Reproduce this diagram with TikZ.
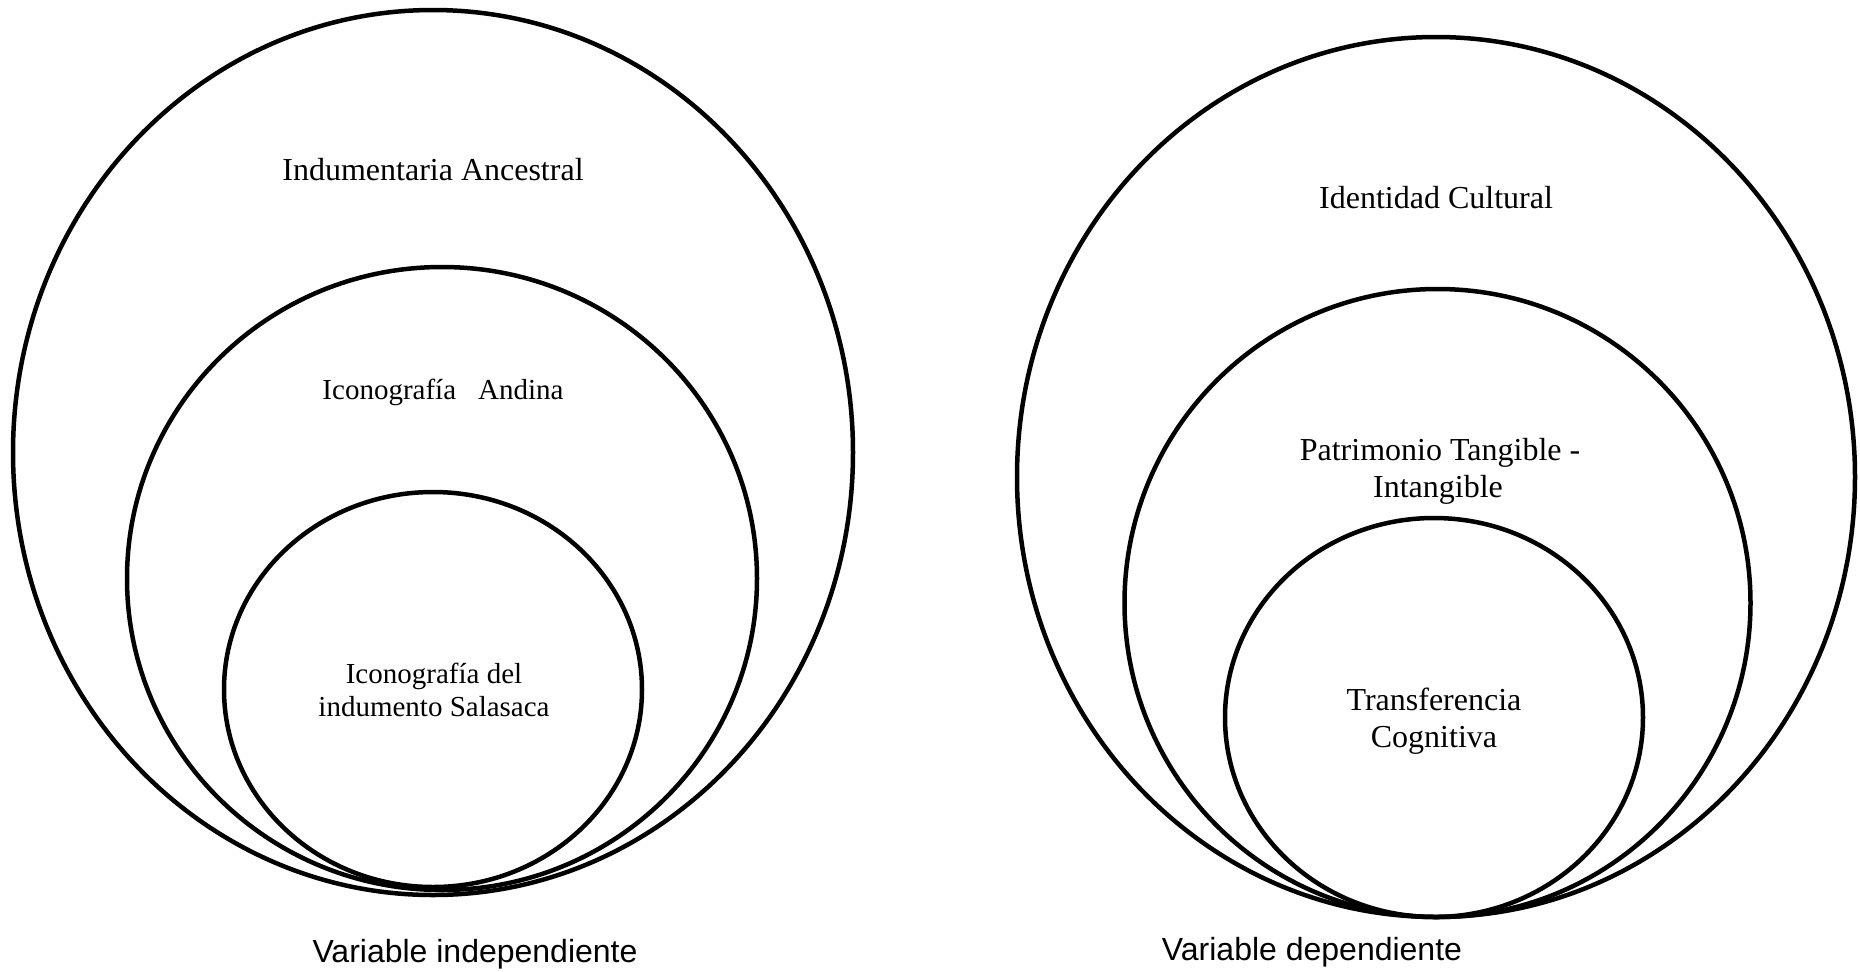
\documentclass[tikz,border=0pt]{standalone}
\usepackage{fontspec}
\setmainfont{Liberation Serif}
\setsansfont{Liberation Sans}
\begin{document}
\begin{tikzpicture}[x=0.5pt,y=-0.5pt,
  ring/.style={line width=2.25pt},
  lbl/.style={font=\fontsize{16}{18.5}\selectfont, anchor=base, inner sep=0pt},
  lblsmall/.style={font=\fontsize{14.5}{17}\selectfont, anchor=base, inner sep=0pt},
  caption/.style={font=\sffamily\fontsize{16}{18.5}\selectfont, anchor=base, inner sep=0pt}]
\useasboundingbox (0,0) rectangle (1860,971);
% left set
\draw[ring] (433,452.5) ellipse [x radius=420, y radius=442.5];
\draw[ring] (442,578.5) ellipse [x radius=315, y radius=311.5];
\draw[ring] (433,689.5) ellipse [x radius=209, y radius=197.5];
% right set
\draw[ring] (1436,477) ellipse [x radius=419, y radius=440];
\draw[ring] (1437.5,603) ellipse [x radius=313, y radius=314];
\draw[ring] (1434,717.5) ellipse [x radius=209, y radius=199.5];
% labels
\node[lbl] (ia) at (433,180) {Indumentaria Ancestral};
\node[lblsmall] (ican) at (443,399) {Iconografía\hspace{11pt}Andina};
\node[lblsmall] (ids1) at (434,683) {Iconografía del};
\node[lblsmall] (ids2) at (434,716) {indumento Salasaca};
\node[caption] (vi) at (475,962) {Variable independiente};
\node[lbl] (ic) at (1436,208) {Identidad Cultural};
\node[lbl] (pt1) at (1440,460) {Patrimonio Tangible -};
\node[lbl] (pt2) at (1438,497) {Intangible};
\node[lbl] (tc1) at (1434,710) {Transferencia};
\node[lbl] (tc2) at (1434,747) {Cognitiva};
\node[caption] (vd) at (1312,960) {Variable dependiente};
\end{tikzpicture}
\end{document}
